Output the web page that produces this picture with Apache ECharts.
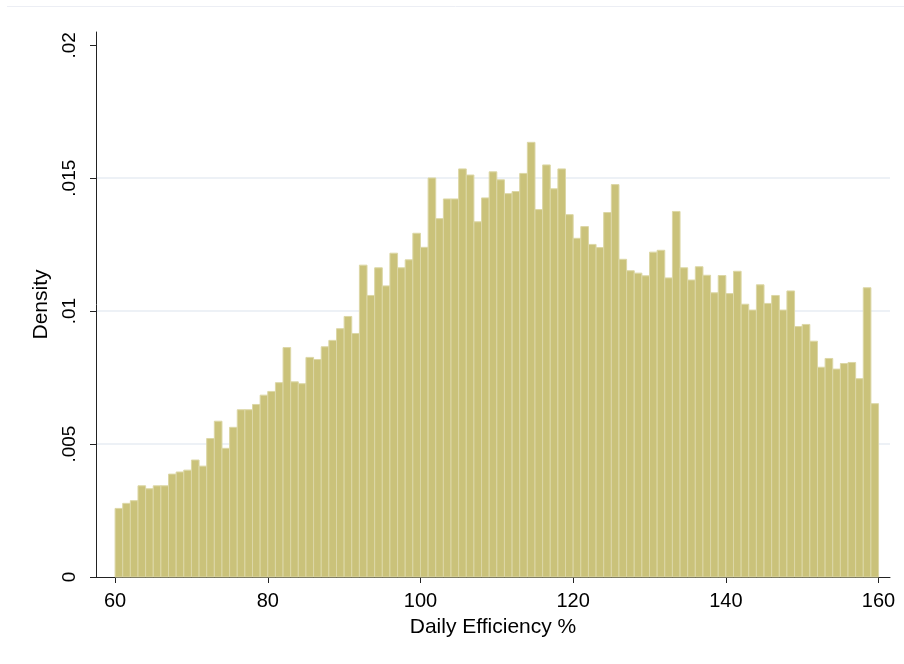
<!DOCTYPE html>
<html>
<head>
<meta charset="utf-8">
<script src="https://cdn.jsdelivr.net/npm/echarts@6/dist/echarts.min.js"></script>
<style>
  html, body { margin: 0; background: #fff; }
  #chart { width: 904px; height: 664px; }
</style>
</head>
<body>
<div id="chart"></div>
<script>
// histogram bins: width 1, starting at 60
const binStart = 60
const binWidth = 1
const density = [
  0.00258, 0.00277, 0.00287, 0.00343, 0.00332, 0.00343, 0.00343, 0.00387, 0.00395, 0.00402,
  0.00440, 0.00417, 0.00521, 0.00586, 0.00484, 0.00563, 0.00629, 0.00629, 0.00649, 0.00684,
  0.00698, 0.00731, 0.00863, 0.00734, 0.00727, 0.00826, 0.00818, 0.00866, 0.00890, 0.00934,
  0.00980, 0.00916, 0.01173, 0.01059, 0.01163, 0.01095, 0.01218, 0.01163, 0.01193, 0.01293,
  0.01240, 0.01501, 0.01348, 0.01422, 0.01422, 0.01535, 0.01512, 0.01336, 0.01426, 0.01524,
  0.01494, 0.01442, 0.01450, 0.01518, 0.01635, 0.01382, 0.01550, 0.01460, 0.01535, 0.01363,
  0.01274, 0.01318, 0.01251, 0.01239, 0.01371, 0.01476, 0.01195, 0.01152, 0.01143, 0.01133,
  0.01222, 0.01229, 0.01125, 0.01375, 0.01163, 0.01117, 0.01167, 0.01135, 0.01069, 0.01134,
  0.01066, 0.01150, 0.01026, 0.01004, 0.01099, 0.01029, 0.01059, 0.01004, 0.01076, 0.00942,
  0.00950, 0.00887, 0.00789, 0.00822, 0.00782, 0.00803, 0.00807, 0.00746, 0.01088, 0.00652
]
const xTicks = [60, 80, 100, 120, 140, 160]
const yTicks = [0, 0.005, 0.01, 0.015, 0.02]

const bins = density.map((d, i) => [binStart + i * binWidth, binStart + (i + 1) * binWidth, d])

const font = 'Liberation Sans, Arial, sans-serif'
const chart = echarts.init(document.getElementById('chart'))

chart.setOption({
  backgroundColor: '#fff',
  animation: false,
  graphic: [
    { type: 'line', shape: { x1: 7, y1: 6.5, x2: 904, y2: 6.5 }, style: { stroke: '#eceef4', lineWidth: 1 } }
  ],
  grid: { left: 96, right: 14, top: 32, bottom: 87 },
  xAxis: {
    type: 'value',
    min: 57.5,
    max: 161.5,
    name: 'Daily Efficiency %',
    nameLocation: 'middle',
    nameGap: 40,
    nameTextStyle: { fontFamily: font, fontSize: 21, color: '#000' },
    axisLine: { lineStyle: { color: '#222', width: 1 } },
    axisTick: { customValues: xTicks, length: 6, lineStyle: { color: '#222' } },
    axisLabel: { customValues: xTicks, margin: 14, fontFamily: font, fontSize: 20, color: '#000' },
    splitLine: { show: false }
  },
  yAxis: {
    type: 'value',
    min: 0,
    max: 0.0205,
    name: 'Density',
    nameLocation: 'middle',
    nameGap: 38,
    nameTextStyle: { fontFamily: font, fontSize: 21, color: '#000' },
    axisLine: { show: true, lineStyle: { color: '#222', width: 1 } },
    axisTick: { show: true, customValues: yTicks, length: 6, lineStyle: { color: '#222' } },
    axisLabel: {
      customValues: yTicks,
      rotate: 90,
      margin: 17,
      fontFamily: font,
      fontSize: 19,
      color: '#000',
      formatter: v => String(v).replace(/^0\./, '.')
    },
    splitLine: {
      show: true,
      lineStyle: { color: ['rgba(0,0,0,0)', '#e7ecf3', '#e7ecf3', '#e7ecf3', 'rgba(0,0,0,0)'], width: 1.5 }
    }
  },
  series: [{
    type: 'custom',
    data: bins,
    encode: { x: [0, 1], y: 2 },
    renderItem: (params, api) => {
      const topLeft = api.coord([api.value(0), api.value(2)])
      const bottomRight = api.coord([api.value(1), 0])
      return {
        type: 'rect',
        shape: {
          x: topLeft[0],
          y: topLeft[1],
          width: bottomRight[0] - topLeft[0],
          height: bottomRight[1] - topLeft[1]
        },
        style: { fill: '#cac27a', stroke: '#dcd7a6', lineWidth: 1 }
      }
    }
  }]
})
</script>
</body>
</html>
